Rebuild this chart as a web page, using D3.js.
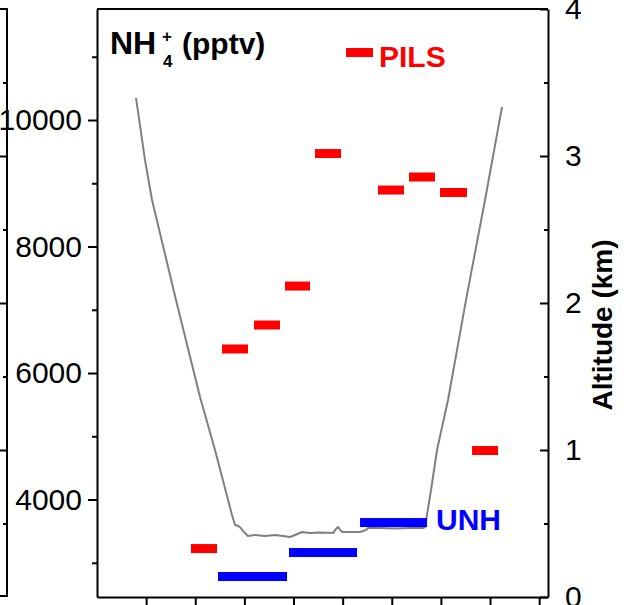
<!DOCTYPE html>
<html>
<head>
<meta charset="utf-8">
<script src="https://cdn.jsdelivr.net/npm/d3@7"></script>
<style>
  html, body { margin: 0; padding: 0; background: #fff; }
  svg { display: block; font-family: "Liberation Sans", Arial, sans-serif; }
</style>
</head>
<body>
<svg id="chart" width="624" height="605"></svg>
<script>
// ---- Data ----
// PILS NH4+ (pptv): time intervals (x units) and values
const pilsStart = [1.913, 2.545, 3.196, 3.827, 4.438, 5.069, 5.720, 6.351, 6.982, 7.634];
const pilsEnd   = [2.443, 3.074, 3.725, 4.336, 4.967, 5.618, 6.249, 6.880, 7.532, 8.163];
const pilsValue = [3225, 6380, 6759, 7375, 9470, 11067, 8893, 9099, 8854, 4775];

// UNH NH4+ (pptv)
const unhStart = [2.463, 3.908, 5.354];
const unhEnd   = [3.868, 5.293, 6.718];
const unhValue = [2783, 3162, 3636];

// Altitude (km) trace
const altTime = [0.794, 0.977, 1.120, 1.608, 2.097, 2.402, 2.748, 2.809, 2.870, 2.911, 2.992, 3.074,
  3.216, 3.420, 3.623, 3.786, 3.929, 4.031, 4.173, 4.336, 4.539, 4.804, 4.865, 4.906, 4.967, 5.008,
  5.191, 5.354, 5.476, 5.517, 5.761, 6.066, 6.372, 6.636, 6.677, 6.799, 6.921, 7.145, 7.511, 7.898, 8.244];
const altKm = [3.395, 2.973, 2.701, 2.020, 1.361, 1.000, 0.558, 0.490, 0.483, 0.476, 0.442, 0.415,
  0.422, 0.415, 0.422, 0.415, 0.408, 0.422, 0.442, 0.435, 0.439, 0.435, 0.463, 0.476, 0.449, 0.442,
  0.442, 0.442, 0.456, 0.469, 0.469, 0.466, 0.469, 0.469, 0.476, 0.728, 1.000, 1.340, 2.020, 2.701, 3.333];

// Tick values
const xTicks = [1, 2, 3, 4, 5, 6, 7, 8, 9];
const leftMajor = [4000, 6000, 8000, 10000];
const leftMinor = [3000, 5000, 7000, 9000, 11000];
const rightMajor = [0, 1, 2, 3, 4];
const rightMinor = [0.5, 1.5, 2.5, 3.5];

// ---- Layout ----
const L = 97, R = 548, T = 9, B = 597;
const svg = d3.select("#chart");

const x = d3.scaleLinear().domain([0, 9.18]).range([L, R]);
const yL = d3.scaleLinear().domain([2459, 11755]).range([B, T]);
const yR = d3.scaleLinear().domain([0, 4]).range([B, T]);

function styleAxis(g) {
  g.selectAll("path.domain").attr("stroke", "#000").attr("stroke-width", 2);
  g.selectAll(".tick line").attr("stroke", "#000").attr("stroke-width", 2);
  g.selectAll(".tick text").attr("fill", "#000").style("font-size", "30px")
    .style("font-family", "'Liberation Sans', Arial, sans-serif");
}

// ---- Left partial panel (previous panel's right edge) ----
const gPrev = svg.append("g");
gPrev.append("path")
  .attr("d", `M0,${T} H7 V${B - 1} H0`)
  .attr("fill", "none").attr("stroke", "#000").attr("stroke-width", 2);
gPrev.append("g").attr("transform", "translate(7,0)")
  .call(d3.axisLeft(yR).tickValues([1, 2, 3]).tickSize(7).tickFormat(""))
  .call(styleAxis).call(g => g.select(".domain").remove());
gPrev.append("g").attr("transform", "translate(7,0)")
  .call(d3.axisLeft(yR).tickValues(rightMinor).tickSize(4).tickFormat(""))
  .call(styleAxis).call(g => g.select(".domain").remove());

// ---- Frame top ----
svg.append("line").attr("x1", L).attr("x2", R).attr("y1", T).attr("y2", T)
  .attr("stroke", "#000").attr("stroke-width", 2);

// ---- Left axis ----
svg.append("g").attr("transform", `translate(${L},0)`)
  .call(d3.axisLeft(yL).tickValues(leftMajor).tickSize(9).tickPadding(6).tickSizeOuter(0).tickFormat(d3.format("d")))
  .call(styleAxis);
svg.append("g").attr("transform", `translate(${L},0)`)
  .call(d3.axisLeft(yL).tickValues(leftMinor).tickSize(5).tickFormat(""))
  .call(styleAxis).call(g => g.select(".domain").remove());

// ---- Right axis (altitude) ----
svg.append("g").attr("transform", `translate(${R},0)`)
  .call(d3.axisRight(yR).tickValues(rightMajor).tickSizeInner(-8).tickSizeOuter(0).tickPadding(17).tickFormat(d3.format("d")))
  .call(styleAxis);
svg.append("g").attr("transform", `translate(${R},0)`)
  .call(d3.axisRight(yR).tickValues(rightMinor).tickSizeInner(-4).tickSizeOuter(0).tickFormat(""))
  .call(styleAxis).call(g => g.select(".domain").remove());

// ---- Bottom axis ----
svg.append("g").attr("transform", `translate(0,${B})`)
  .call(d3.axisBottom(x).tickValues(xTicks).tickSize(9).tickSizeOuter(0).tickFormat(""))
  .call(styleAxis);

// ---- Altitude line ----
const alt = altTime.map((t, i) => ({ t, a: altKm[i] }));
svg.append("path").datum(alt)
  .attr("d", d3.line().x(d => x(d.t)).y(d => yR(d.a)))
  .attr("fill", "none").attr("stroke", "#808080").attr("stroke-width", 2)
  .attr("stroke-linejoin", "round");

// ---- Bars ----
const barH = 9;
const pils = pilsValue.map((v, i) => ({ s: pilsStart[i], e: pilsEnd[i], v }));
const unh = unhValue.map((v, i) => ({ s: unhStart[i], e: unhEnd[i], v }));

svg.append("g").selectAll("rect").data(unh).join("rect")
  .attr("x", d => x(d.s)).attr("width", d => x(d.e) - x(d.s))
  .attr("y", d => yL(d.v) - barH / 2).attr("height", barH)
  .attr("fill", "#0000ff");

svg.append("g").selectAll("rect").data(pils).join("rect")
  .attr("x", d => x(d.s)).attr("width", d => x(d.e) - x(d.s))
  .attr("y", d => yL(d.v) - barH / 2).attr("height", barH)
  .attr("fill", "#ff0000");

// ---- Labels ----
const title = svg.append("g").style("font-weight", "bold").attr("fill", "#000");
title.append("text").attr("x", 110).attr("y", 54).style("font-size", "32px").text("NH");
title.append("text").attr("x", 162).attr("y", 42).style("font-size", "17px").text("+");
title.append("text").attr("x", 163).attr("y", 67).style("font-size", "17px").text("4");
title.append("text").attr("x", 182).attr("y", 54).style("font-size", "30px").text("(pptv)");

svg.append("text").attr("x", 379).attr("y", 67)
  .style("font-size", "30px").style("font-weight", "bold").attr("fill", "#ff0000").text("PILS");
svg.append("text").attr("x", 436).attr("y", 530)
  .style("font-size", "30px").style("font-weight", "bold").attr("fill", "#0000ff").text("UNH");

svg.append("text")
  .attr("transform", "translate(612,325) rotate(-90)")
  .attr("text-anchor", "middle")
  .style("font-size", "28px").style("font-weight", "bold").attr("fill", "#000")
  .text("Altitude (km)");
</script>
</body>
</html>
